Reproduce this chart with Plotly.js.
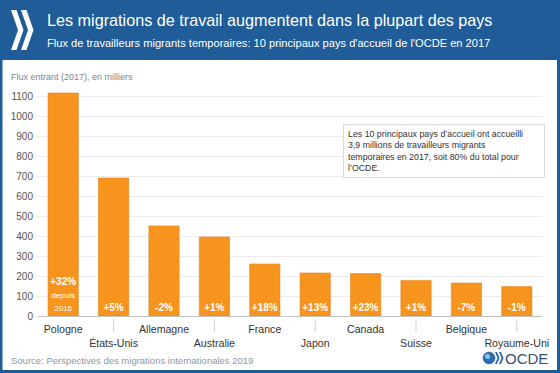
<!DOCTYPE html>
<html>
<head>
<meta charset="utf-8">
<script src="https://cdn.plot.ly/plotly-3.0.1.min.js"></script>
<style>
  html, body { margin: 0; padding: 0; background: #ffffff; }
  #chart { width: 560px; height: 373px; }
</style>
</head>
<body>
<div id="chart"></div>
<script>
// ---- Data ----
const countries = ['Pologne', 'États-Unis', 'Allemagne', 'Australie', 'France', 'Japon', 'Canada', 'Suisse', 'Belgique', 'Royaume-Uni'];
const inflows = [1115, 690, 450, 395, 260, 215, 212, 178, 165, 147];
const changes = ['+32%', '+5%', '-2%', '+1%', '+18%', '+13%', '+23%', '+1%', '-7%', '-1%'];
const changeNote = ['depuis', '2016'];
const yTicks = [0, 100, 200, 300, 400, 500, 600, 700, 800, 900, 1000, 1100];

// ---- Layout geometry (pixels) ----
const W = 560, H = 373;
const ML = 38, MR = 18, MT = 86, MB = 57;
const PW = W - ML - MR, PH = H - MT - MB;
const fx = p => (p - ML) / PW;          // pixel x -> paper
const fy = p => (H - MB - p) / PH;      // pixel y -> paper

const FONT = 'Liberation Sans, Arial, Helvetica, sans-serif';
const BLUE = '#1f5c98';

function rect(x0, y0, x1, y1, color) {
  return {type: 'rect', xref: 'paper', yref: 'paper', x0: fx(x0), x1: fx(x1), y0: fy(y1), y1: fy(y0),
          fillcolor: color, line: {width: 0}, layer: 'below'};
}
function poly(points, color) {
  const d = points.map((p, i) => (i ? 'L' : 'M') + fx(p[0]).toFixed(5) + ',' + fy(p[1]).toFixed(5)).join(' ') + ' Z';
  return {type: 'path', xref: 'paper', yref: 'paper', path: d, fillcolor: color, line: {width: 0}, layer: 'above'};
}

const barText = changes.map((c, i) => i === 0
  ? '<b>' + c + '</b><br><span style="font-size:8px">' + changeNote.join('<br>') + '</span>'
  : '<b>' + c + '</b>');

const oddCats = countries.filter((c, i) => i % 2 === 1);
const tickText = countries.map((c, i) => i % 2 === 1 ? '<br>' + c : c);

const traces = [
  {
    type: 'bar', x: countries, y: inflows,
    marker: {color: '#f7941d', line: {color: '#e2831a', width: 0.6}},
    width: 0.6,
    text: barText, textposition: 'inside', insidetextanchor: 'start', textangle: 0,
    textfont: {family: FONT, size: 10, color: '#ffffff'},
    constraintext: 'none', cliponaxis: false,
    hoverinfo: 'x+y'
  }
];

const shapes = [
  // header band
  rect(0, 0, W, 60, BLUE),
  // frame borders
  rect(0, 58, 2.5, H, BLUE),
  rect(W - 3, 58, W, H, BLUE),
  rect(0, H - 3, W, H, BLUE),
  // OECD chevrons in header
  poly([[11, 10], [16.5, 10], [23.5, 30], [16.5, 50], [11, 50], [18, 30]], '#ffffff'),
  poly([[21, 10], [26.5, 10], [33.5, 30], [26.5, 50], [21, 50], [28, 30]], '#ffffff'),
  // OECD logo bottom right: globe + chevrons
  {type: 'circle', xref: 'paper', yref: 'paper', x0: fx(483), x1: fx(495), y0: fy(364), y1: fy(352),
   fillcolor: '#2b6cb3', line: {color: '#1d4f8a', width: 0.5}, layer: 'above'},
  {type: 'circle', xref: 'paper', yref: 'paper', x0: fx(485), x1: fx(490), y0: fy(359), y1: fy(354),
   fillcolor: '#8fc1ea', line: {width: 0}, layer: 'above'},
  poly([[495, 352], [497, 352], [499.5, 358], [497, 364], [495, 364], [497.5, 358]], '#2b6cb3'),
  poly([[499, 352], [501, 352], [503.5, 358], [501, 364], [499, 364], [501.5, 358]], '#2b6cb3')
].concat(oddCats.map(c => ({
  // tick marks above the staggered (lower) category labels
  type: 'line', xref: 'x', yref: 'paper', x0: c, x1: c, y0: fy(319), y1: fy(332),
  line: {color: '#cfcfcf', width: 1}, layer: 'above'
})));

const annotations = [
  {xref: 'paper', yref: 'paper', x: fx(45), y: fy(20), xanchor: 'left', yanchor: 'middle', showarrow: false,
   text: 'Les migrations de travail augmentent dans la plupart des pays',
   font: {family: FONT, size: 16.2, color: '#ffffff'}},
  {xref: 'paper', yref: 'paper', x: fx(45), y: fy(43), xanchor: 'left', yanchor: 'middle', showarrow: false,
   text: "Flux de travailleurs migrants temporaires: 10 principaux pays d'accueil de l'OCDE en 2017",
   font: {family: FONT, size: 11.1, color: '#ffffff'}},
  {xref: 'paper', yref: 'paper', x: fx(9), y: fy(77), xanchor: 'left', yanchor: 'middle', showarrow: false,
   text: 'Flux entrant (2017), en milliers',
   font: {family: FONT, size: 9, color: '#7d8590'}},
  {xref: 'paper', yref: 'paper', x: fx(9), y: fy(360), xanchor: 'left', yanchor: 'middle', showarrow: false,
   text: 'Source: Perspectives des migrations internationales 2019',
   font: {family: FONT, size: 9.5, color: '#8a97a8'}},
  {xref: 'paper', yref: 'paper', x: fx(503), y: fy(358), xanchor: 'left', yanchor: 'middle', showarrow: false,
   text: 'OCDE', font: {family: FONT, size: 15, color: '#35506f'}},
  {xref: 'paper', yref: 'paper', x: fx(343), y: fy(124), xanchor: 'left', yanchor: 'top', showarrow: false,
   align: 'left', bgcolor: '#ffffff', bordercolor: '#dcdcdc', borderwidth: 1, borderpad: 4,
   width: 192,
   text: 'Les 10 principaux pays d’accueil ont accueilli<br>3,9 millions de travailleurs migrants<br>temporaires en 2017, soit 80% du total pour<br>l’OCDE.',
   font: {family: FONT, size: 8.8, color: '#333333'}}
];

const layout = {
  width: W, height: H,
  margin: {l: ML, r: MR, t: MT, b: MB, pad: 0},
  paper_bgcolor: '#ffffff', plot_bgcolor: '#ffffff',
  showlegend: false,
  bargap: 0.4,
  font: {family: FONT},
  xaxis: {
    type: 'category', categoryorder: 'array', categoryarray: countries,
    tickvals: countries, ticktext: tickText, tickangle: 0,
    showgrid: false, zeroline: false, showline: true, linecolor: '#c3c3c3', linewidth: 1,
    ticks: '', tickfont: {family: FONT, size: 10.6, color: '#333333'},
    ticklabelstandoff: 3,
    fixedrange: true
  },
  yaxis: {
    range: [0, 1150], tickvals: yTicks, ticktext: yTicks.map(String),
    showgrid: true, gridcolor: '#ececec', gridwidth: 1,
    zeroline: false, showline: false, ticks: '',
    tickfont: {family: FONT, size: 10, color: '#555555'},
    ticklabelstandoff: 4,
    fixedrange: true
  },
  shapes: shapes,
  annotations: annotations
};

Plotly.newPlot('chart', traces, layout, {displayModeBar: false, staticPlot: true});
</script>
</body>
</html>
